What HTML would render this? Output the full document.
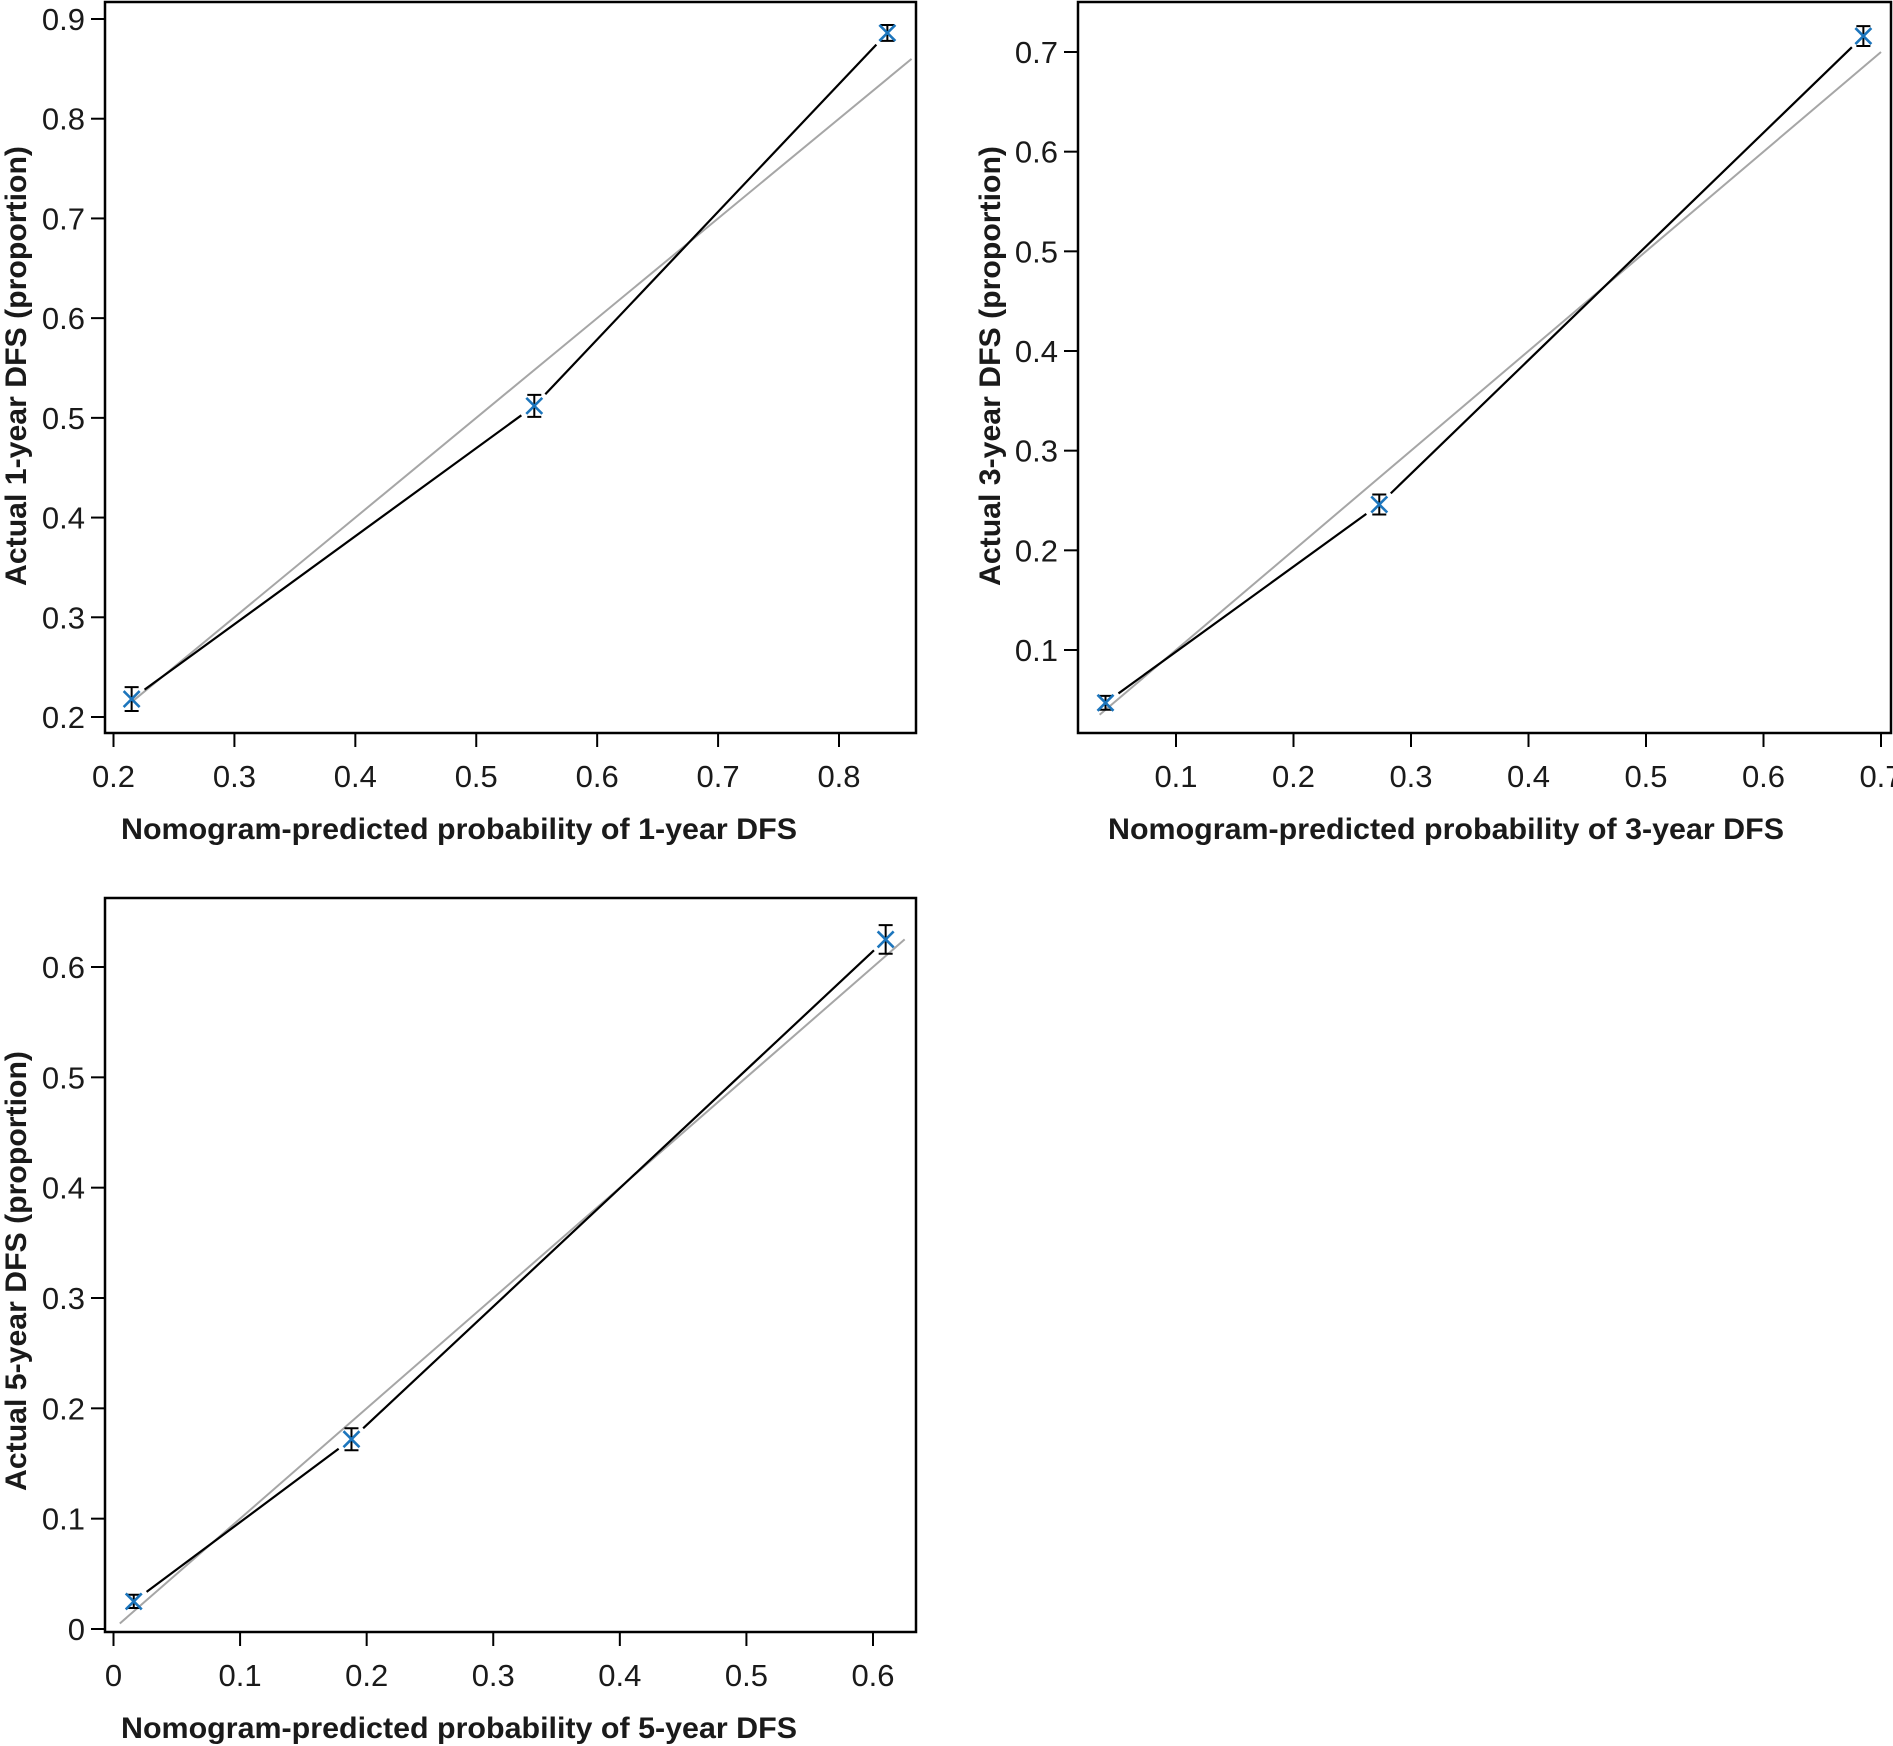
<!DOCTYPE html>
<html><head><meta charset="utf-8"><style>
html,body{margin:0;padding:0;background:#fff;}
svg{display:block;}
text{font-family:"Liberation Sans",sans-serif;fill:#1a1a1a;}
.tick{font-size:31px;font-weight:300;}
.title{font-size:30px;font-weight:bold;}
</style></head><body>
<svg id="chart" width="1893" height="1746" viewBox="0 0 1893 1746" xmlns="http://www.w3.org/2000/svg"></svg>
<script>
// Panel 1: 1-year DFS
const p1Pred = [0.215, 0.548, 0.84];
const p1Actual = [0.218, 0.512, 0.886];
const p1Err = [0.012, 0.011, 0.008];
const p1XTicks = [0.2, 0.3, 0.4, 0.5, 0.6, 0.7, 0.8];
const p1YTicks = [0.2, 0.3, 0.4, 0.5, 0.6, 0.7, 0.8, 0.9];
const p1Diag = [0.215, 0.86];
// Panel 2: 3-year DFS
const p2Pred = [0.04, 0.273, 0.685];
const p2Actual = [0.047, 0.246, 0.716];
const p2Err = [0.007, 0.01, 0.01];
const p2XTicks = [0.1, 0.2, 0.3, 0.4, 0.5, 0.6, 0.7];
const p2YTicks = [0.1, 0.2, 0.3, 0.4, 0.5, 0.6, 0.7];
const p2Diag = [0.035, 0.70];
// Panel 3: 5-year DFS
const p3Pred = [0.016, 0.188, 0.61];
const p3Actual = [0.025, 0.172, 0.625];
const p3Err = [0.006, 0.01, 0.013];
const p3XTicks = [0, 0.1, 0.2, 0.3, 0.4, 0.5, 0.6];
const p3YTicks = [0, 0.1, 0.2, 0.3, 0.4, 0.5, 0.6];
const p3Diag = [0.005, 0.625];

const NS = "http://www.w3.org/2000/svg";
const svg = document.getElementById('chart');
function mk(tag, attrs, parent){const e=document.createElementNS(NS,tag);for(const k in attrs)e.setAttribute(k,attrs[k]);(parent||svg).appendChild(e);return e;}

function panel(cfg){
  const g = mk('g',{});
  
  
  const sx = v => cfg.x0px + (v - cfg.x0v) * (cfg.x1px - cfg.x0px) / (cfg.x1v - cfg.x0v);
  const sy = v => cfg.y0px + (v - cfg.y0v) * (cfg.y1px - cfg.y0px) / (cfg.y1v - cfg.y0v);
  const box = mk('rect',{x:cfg.L,y:cfg.T,width:cfg.R-cfg.L,height:cfg.B-cfg.T,fill:'none',stroke:'#000','stroke-width':2.5},g);
  
  
  cfg.xt.forEach(v=>{
    const t=mk('line',{x1:sx(v),x2:sx(v),y1:cfg.B,y2:cfg.B+14,stroke:'#000','stroke-width':2},g);
    
    
    const l=mk('text',{x:sx(v),y:cfg.B+54,'text-anchor':'middle',class:'tick'},g);
    l.textContent=String(v);
    
    
  });
  cfg.yt.forEach(v=>{
    const t=mk('line',{x1:cfg.L-14,x2:cfg.L,y1:sy(v),y2:sy(v),stroke:'#000','stroke-width':2},g);
    
    
    const l=mk('text',{x:cfg.L-20,y:sy(v)+11,'text-anchor':'end',class:'tick'},g);
    l.textContent=String(v);
    
    
  });
  const xt=mk('text',{x:cfg.xtx,y:cfg.B+106,class:'title',textLength:cfg.xtw,lengthAdjust:'spacingAndGlyphs'},g);
  xt.textContent=cfg.xtitle;
  
  
  const yt=mk('text',{x:0,y:0,class:'title','text-anchor':'middle',textLength:cfg.ytw,lengthAdjust:'spacingAndGlyphs',transform:`translate(${cfg.ytx},${cfg.yty}) rotate(-90)`},g);
  yt.textContent=cfg.ytitle;
  
  
  const d=mk('line',{x1:sx(cfg.diag[0]),y1:sy(cfg.diag[0]),x2:sx(cfg.diag[1]),y2:sy(cfg.diag[1]),stroke:'#a6a6a6','stroke-width':2},g);
  
  
  for(let i=0;i<cfg.px.length-1;i++){
    const ax=sx(cfg.px[i]),ay=sy(cfg.py[i]),bx=sx(cfg.px[i+1]),by=sy(cfg.py[i+1]);
    const len=Math.hypot(bx-ax,by-ay),ux=(bx-ax)/len,uy=(by-ay)/len,gp=16;
    const s=mk('line',{x1:ax+ux*gp,y1:ay+uy*gp,x2:bx-ux*gp,y2:by-uy*gp,stroke:'#000','stroke-width':2.2},g);
    
    
  }
  cfg.px.forEach((v,i)=>{
    const cx=sx(v),cy=sy(cfg.py[i]),ylo=sy(cfg.py[i]-cfg.err[i]),yhi=sy(cfg.py[i]+cfg.err[i]);
    const eb=mk('path',{d:`M${cx},${ylo}V${yhi}M${cx-7},${ylo}H${cx+7}M${cx-7},${yhi}H${cx+7}`,stroke:'#000','stroke-width':2,fill:'none'},g);
    
    
    const m=mk('path',{d:`M${cx-8},${cy-8}L${cx+8},${cy+8}M${cx-8},${cy+8}L${cx+8},${cy-8}`,stroke:'#1c75bc','stroke-width':2.6,fill:'none'},g);
    
    
  });
}

panel({name:'panel-1-year',L:105,R:916,T:2,B:733,
  x0v:0.2,x1v:0.8,x0px:113.5,x1px:839,y0v:0.2,y1v:0.9,y0px:717,y1px:19,
  xt:p1XTicks,yt:p1YTicks,px:p1Pred,py:p1Actual,err:p1Err,diag:p1Diag,
  xtitle:'Nomogram-predicted probability of 1-year DFS',xtx:121,xtw:676,
  ytitle:'Actual 1-year DFS (proportion)',ytx:26,yty:366,ytw:440});
panel({name:'panel-3-year',L:1078,R:1891,T:2,B:733,
  x0v:0.1,x1v:0.7,x0px:1176,x1px:1881,y0v:0.1,y1v:0.7,y0px:650,y1px:52,
  xt:p2XTicks,yt:p2YTicks,px:p2Pred,py:p2Actual,err:p2Err,diag:p2Diag,
  xtitle:'Nomogram-predicted probability of 3-year DFS',xtx:1108,xtw:676,
  ytitle:'Actual 3-year DFS (proportion)',ytx:1000,yty:366,ytw:440});
panel({name:'panel-5-year',L:105,R:916,T:898,B:1632,
  x0v:0,x1v:0.6,x0px:113.5,x1px:873,y0v:0,y1v:0.6,y0px:1629,y1px:967,
  xt:p3XTicks,yt:p3YTicks,px:p3Pred,py:p3Actual,err:p3Err,diag:p3Diag,
  xtitle:'Nomogram-predicted probability of 5-year DFS',xtx:121,xtw:676,
  ytitle:'Actual 5-year DFS (proportion)',ytx:26,yty:1271,ytw:440});
</script>
</body></html>
